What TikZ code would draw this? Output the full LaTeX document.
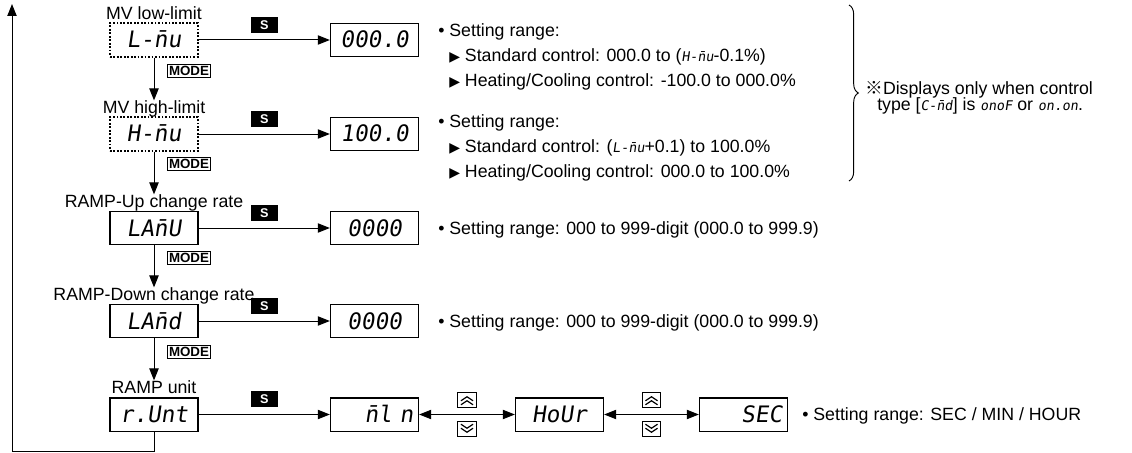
\documentclass[tikz,border=0pt]{standalone}
\usepackage{fontspec}
\setmainfont{Liberation Sans}
\newfontfamily\segfont[FakeSlant=0.15]{DejaVu Sans Mono}
\newfontfamily\symfont{DejaVu Sans}
\newfontfamily\cjk{Noto Sans CJK JP}
\usetikzlibrary{arrows.meta,positioning,decorations.pathreplacing}

\tikzset{
	disp/.style={draw, line width=1pt, minimum width=66pt, minimum height=25pt, inner sep=0pt,
		text width=58pt, align=center, text height=12pt, text depth=0pt,
		font=\segfont\fontsize{17}{17}\selectfont},
	dotdisp/.style={disp, dash pattern=on 1.3pt off 1.3pt, line width=1.3pt},
	skey/.style={fill=black, text=white, font=\bfseries\fontsize{9.5}{9.5}\selectfont,
		minimum width=20pt, minimum height=12pt, inner sep=0pt},
	modekey/.style={draw, line width=0.8pt, font=\bfseries\fontsize{10}{10}\selectfont, inner sep=1pt},
	lbl/.style={font=\fontsize{13.3}{15}\selectfont, inner sep=0pt, text height=9.5pt, text depth=0pt},
	txt/.style={lbl, anchor=west},
	flow/.style={line width=0.75pt, -{Triangle[length=9pt,width=7pt]}},
	both/.style={line width=0.75pt, {Triangle[length=9pt,width=7pt]}-{Triangle[length=9pt,width=7pt]}},
	btn/.style={draw, line width=0.6pt, minimum width=14pt, minimum height=11pt, inner sep=0pt}
}
\newcommand{\seg}[1]{{\segfont\fontsize{10}{10}\selectfont #1}}
\newcommand{\tri}{{\symfont\fontsize{10.5}{10.5}\selectfont ▶}}

\begin{document}
\begin{tikzpicture}[x=0.75pt,y=-0.75pt]
	\useasboundingbox (0,0) rectangle (1132,453);

	% parameters
	\node[dotdisp] (lmu) at (154,40) {L-n̄u};
	\node[dotdisp] (hmu) at (154,134) {H-n̄u};
	\node[disp] (lamu) at (154,228) {LAn̄U};
	\node[disp] (lamd) at (154,321) {LAn̄d};
	\node[disp] (runt) at (154,414.5) {r.Unt};
	\node[lbl] (lmuL) at (154,13) {MV low-limit};
	\node[lbl] (hmuL) at (154,107) {MV high-limit};
	\node[lbl] (lamuL) at (154,201) {RAMP-Up change rate};
	\node[lbl] (lamdL) at (154,294) {RAMP-Down change rate};
	\node[lbl] (runtL) at (154,387) {RAMP unit};

	\foreach \a/\b/\y in {lmu/hmuL/71, hmu/lamuL/164, lamu/lamdL/258, lamd/runtL/352}{
		\draw[flow] (\a) -- (\b);
		\node[modekey] (m\a) at (189,\y) {MODE};
	}

	% set values
	\node[disp] (vlmu) at (374.5,40) {000.0};
	\node[disp] (vhmu) at (374.5,134) {100.0};
	\node[disp] (vlamu) at (374.5,228) {0000};
	\node[disp] (vlamd) at (374.5,321) {0000};
	\node[disp, align=right] (vmin) at (374.5,414.5) {n̄l n};
	\node[disp] (vhour) at (559.5,414.5) {HoUr};
	\node[disp, align=right] (vsec) at (743.5,414.5) {SEC};

	\foreach \a in {lmu,hmu,lamu,lamd}
		\draw[flow] (\a) -- (v\a) node[skey, midway, above=5pt] (s\a) {S};
	\draw[flow] (runt) -- (vmin) node[skey, midway, above=5pt] (srunt) {S};
	\draw[both] (vmin) -- (vhour) node[btn, midway, above=5pt] (upA) {} node[btn, midway, below=5pt] (dnA) {};
	\draw[both] (vhour) -- (vsec) node[btn, midway, above=5pt] (upB) {} node[btn, midway, below=5pt] (dnB) {};
	\foreach \b in {upA,upB}
		\foreach \s in {-3.5pt,-0.5pt}
			\draw[line width=0.9pt] ([xshift=-4.5pt,yshift=\s]\b.center) -- ++(4.5pt,3pt) -- ++(4.5pt,-3pt);
	\foreach \b in {dnA,dnB}
		\foreach \s in {3.5pt,0.5pt}
			\draw[line width=0.9pt] ([xshift=-4.5pt,yshift=\s]\b.center) -- ++(4.5pt,-3pt) -- ++(4.5pt,3pt);

	% return to first parameter
	\coordinate (retA) at (12,451);
	\coordinate (retB) at (12,4);
	\draw[flow] (runt.south) |- (retA) -- (retB);

	% setting ranges
	\node[txt] (t1) at (438,30) {• Setting range:};
	\node[txt] (t2) at (449,55) {\tri\ Standard control: 000.0 to (\seg{H-n̄u}-0.1\%)};
	\node[txt] (t3) at (449,80) {\tri\ Heating/Cooling control: -100.0 to 000.0\%};
	\node[txt] (t4) at (438,121) {• Setting range:};
	\node[txt] (t5) at (449,146) {\tri\ Standard control: (\seg{L-n̄u}+0.1) to 100.0\%};
	\node[txt] (t6) at (449,171) {\tri\ Heating/Cooling control: 000.0 to 100.0\%};
	\node[txt] (t7) at (438,228) {• Setting range: 000 to 999-digit (000.0 to 999.9)};
	\node[txt] (t8) at (438,321) {• Setting range: 000 to 999-digit (000.0 to 999.9)};
	\node[txt] (t9) at (802,414.5) {• Setting range: SEC / MIN / HOUR};

	% note
	\coordinate (brA) at (849,5);
	\coordinate (brB) at (849,181);
	\draw[line width=0.7pt, decorate, decoration={brace, amplitude=7pt}] (brA) -- (brB);
	\node[txt] (n1) at (865,88) {{\cjk ※}Displays only when control};
	\node[txt] (n2) at (877,104) {type [\seg{C-n̄d}] is \seg{onoF} or \seg{on.on}.};
\end{tikzpicture}
\end{document}
